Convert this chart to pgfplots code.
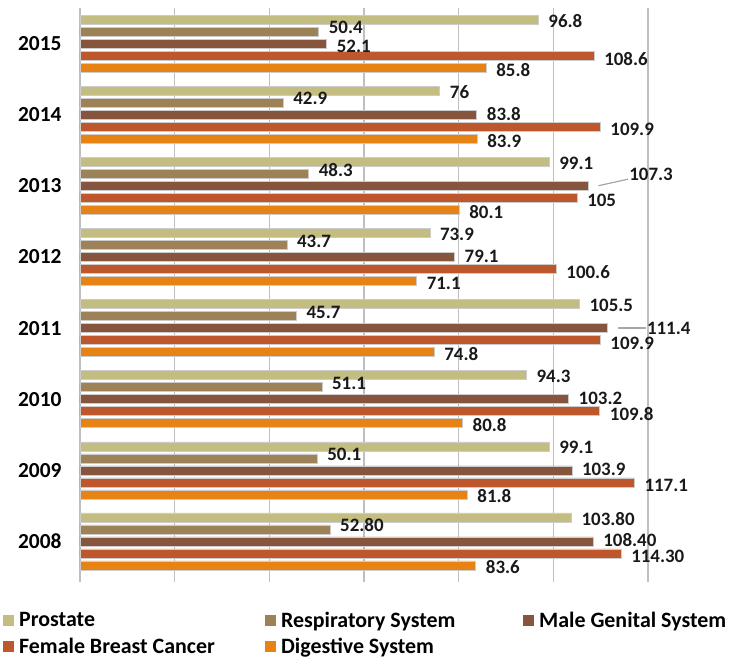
\documentclass[border=0pt]{standalone}
\usepackage{fontspec}
\setmainfont{Carlito}
\usepackage{pgfplots}
\pgfplotsset{compat=1.18}
\usepackage{pgfplotstable}

\definecolor{cPro}{HTML}{C4BD82}
\definecolor{cRes}{HTML}{9D8257}
\definecolor{cMal}{HTML}{87553D}
\definecolor{cFem}{HTML}{BE582C}
\definecolor{cDig}{HTML}{E68314}

% idx: 0 = 2008 ... 7 = 2015
\pgfplotstableread{
idx val lab
7 96.8 96.8
6 76 76
5 99.1 99.1
4 73.9 73.9
3 105.5 105.5
2 94.3 94.3
1 99.1 99.1
0 103.8 103.80
}\prostate
\pgfplotstableread{
idx val lab
7 50.4 50.4
6 42.9 42.9
5 48.3 48.3
4 43.7 43.7
3 45.7 45.7
2 51.1 51.1
1 50.1 50.1
0 52.8 52.80
}\respiratory
% 2015 (52.1), 2013 (107.3) and 2011 (111.4) are plotted separately (label placement)
\pgfplotstableread{
idx val lab
6 83.8 83.8
4 79.1 79.1
2 103.2 103.2
1 103.9 103.9
0 108.4 108.40
}\malegenital
\pgfplotstableread{
idx val lab
7 108.6 108.6
6 109.9 109.9
5 105 105
4 100.6 100.6
3 109.9 109.9
2 109.8 109.8
1 117.1 117.1
0 114.3 114.30
}\femalebreast
\pgfplotstableread{
idx val lab
7 85.8 85.8
6 83.9 83.9
5 80.1 80.1
4 71.1 71.1
3 74.8 74.8
2 80.8 80.8
1 81.8 81.8
0 83.6 83.6
}\digestive

\begin{document}
\begin{tikzpicture}
\begin{axis}[
  scale only axis,
  width=568bp, height=569bp,
  xbar, bar width=9bp,
  xmin=0, xmax=120, ymin=-0.5, ymax=7.5,
  axis line style={draw=none},
  xtick={0,20,...,120}, xticklabels={},
  xtick pos=bottom, tick align=outside,
  major tick length=5bp,
  xtick style={color=black!25, line width=1.3bp},
  xmajorgrids,
  grid style={color=black!25, line width=1.3bp},
  ytick={0,...,7},
  yticklabels={2008,2009,2010,2011,2012,2013,2014,2015},
  ytick style={draw=none},
  yticklabel style={font=\fontsize{21.5}{21.5}\selectfont\bfseries, xshift=-10bp},
  nodes near coords,
  point meta=explicit symbolic,
  nodes near coords style={font=\fontsize{19}{19}\selectfont\bfseries, anchor=west, inner sep=0bp, xshift=10bp, color=black!90},
  legend columns=3,
  legend cell align=left,
  legend image code/.code={\fill[#1,draw=none] (0bp,-5.5bp) rectangle (11bp,5.5bp);},
  legend style={draw=none, fill=none, inner sep=0pt, at={(0,0)}, anchor=north west,
    xshift=-77bp, yshift=-33bp, font=\fontsize{22}{24}\selectfont\bfseries,
    row sep=5bp, /tikz/every even column/.append style={column sep=0bp},
    /tikz/every odd column/.append style={column sep=3bp}},
]
\addplot[fill=cPro, draw=black!20, line width=0.5bp, bar shift=24bp,
  nodes near coords style={yshift=-1.5bp}] table[x=val, y=idx, meta=lab] {\prostate};
\addlegendentry{\makebox[244bp][l]{Prostate}}
\addplot[fill=cRes, draw=black!20, line width=0.5bp, bar shift=12bp,
  nodes near coords style={yshift=4bp}] table[x=val, y=idx, meta=lab] {\respiratory};
\addlegendentry{\makebox[240bp][l]{Respiratory System}}
\addplot[fill=cMal, draw=black!20, line width=0.5bp, bar shift=0bp,
  nodes near coords style={yshift=1bp}] table[x=val, y=idx, meta=lab] {\malegenital};
\addlegendentry{Male Genital System}
\addplot[fill=cFem, draw=black!20, line width=0.5bp, bar shift=-12bp,
  nodes near coords style={yshift=-3bp}] table[x=val, y=idx, meta=lab] {\femalebreast};
\addlegendentry{\makebox[244bp][l]{Female Breast Cancer}}
\addplot[fill=cDig, draw=black!20, line width=0.5bp, bar shift=-24bp,
  nodes near coords style={yshift=-2bp}] table[x=val, y=idx, meta=lab] {\digestive};
\addlegendentry{\makebox[240bp][l]{Digestive System}}
% Male Genital System 2015, label set slightly lower
\addplot[forget plot, fill=cMal, draw=black!20, line width=0.5bp, bar shift=0bp,
  nodes near coords style={yshift=-2.5bp}]
  coordinates {(52.1,7) [52.1]};
% Male Genital System, 2013 and 2011, labels with leader lines
\addplot[forget plot, fill=cMal, draw=black!20, line width=0.5bp, bar shift=0bp,
  nodes near coords={},
  nodes near coords style={xshift=0bp, inner sep=0bp, minimum size=0pt,
    pin={[pin distance=30bp, inner sep=1bp, font=\fontsize{19}{19}\selectfont\bfseries, color=black!90, pin edge={black!35, line width=1.2bp}]8:107.3}}]
  coordinates {(107.3,5)};
\addplot[forget plot, fill=cMal, draw=black!20, line width=0.5bp, bar shift=0bp,
  nodes near coords={},
  nodes near coords style={xshift=0bp, inner sep=0bp, minimum size=0pt,
    pin={[pin distance=28bp, inner sep=1bp, font=\fontsize{19}{19}\selectfont\bfseries, color=black!90, pin edge={black!35, line width=1.2bp}]0:111.4}}]
  coordinates {(111.4,3)};
\end{axis}
\pgfresetboundingbox
\useasboundingbox (-80bp,-83bp) rectangle (659bp,577bp);
\end{tikzpicture}
\end{document}
